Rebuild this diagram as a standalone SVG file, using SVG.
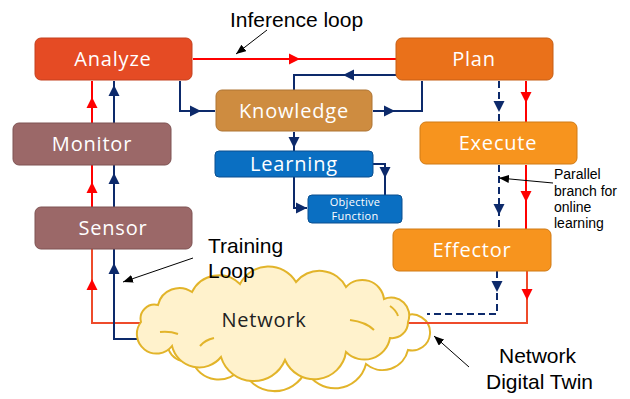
<svg xmlns="http://www.w3.org/2000/svg" width="630" height="399" viewBox="0 0 630 399">
<style>
.box{stroke-width:1}
.nt{font-family:"Open Sans","Liberation Sans",sans-serif;font-size:20px;fill:#fff;text-anchor:middle;letter-spacing:0.8px}
.nts{font-family:"Open Sans","Liberation Sans",sans-serif;font-size:11px;fill:#fff;text-anchor:middle;letter-spacing:0.3px}
.lbl{font-family:"Liberation Sans",Arial,sans-serif;font-size:21px;fill:#000}
.lbls{font-family:"Liberation Sans",Arial,sans-serif;font-size:14px;fill:#000}
.red{stroke:#FF0000;stroke-width:2;fill:none}
.ored{stroke:#EE4B2B;stroke-width:2;fill:none}
.navy{stroke:#0D2A6B;stroke-width:2;fill:none}
.dash{stroke-dasharray:7 4}
.ahr{fill:#FF0000}
.ahn{fill:#0D2A6B}
.ann{stroke:#000;stroke-width:1;fill:none;marker-end:url(#blk)}
.cloud{fill:#FFF2CC;stroke:#E2B42A;stroke-width:2}
.cloudb{fill:#FFFFFF;stroke:#E2B42A;stroke-width:2}
.cin{fill:none;stroke:#E2B42A;stroke-width:2}
</style>
<defs>
<path id="ah" d="M0,0 L-11,-5.5 L-11,5.5 Z"/>
<marker id="blk" viewBox="0 0 10 8" refX="10" refY="4" markerWidth="10" markerHeight="8" markerUnits="userSpaceOnUse" orient="auto">
<path d="M0,0 L10,4 L0,8 Z" fill="#000"/>
</marker>
</defs>
<rect width="630" height="399" fill="#fff"/>

<g id="network-back">
<path class="cloudb" d="M170,334 A16,16 0 0 1 181,319 A22,22 0 0 1 214,308 A30,30 0 0 1 262,301 A32,32 0 0 1 316,300 A30,30 0 0 1 366,306 A22,22 0 0 1 403,317 A18,18 0 0 1 430,334 A18,18 0 0 1 408,350 A26,26 0 0 1 366,364 A32,32 0 0 1 306,370 A34,34 0 0 1 242,367 A28,28 0 0 1 192,360 A18,18 0 0 1 170,334 Z"/>
</g>

<g id="connectors">
<path class="red" d="M193,59 H396"/>
<use href="#ah" class="ahr" transform="translate(300,59)"/>
<path class="navy" d="M180,81 V111 H215"/>
<use href="#ah" class="ahn" transform="translate(201,111)"/>
<path class="navy" d="M396,75 H294 V90"/>
<use href="#ah" class="ahn" transform="translate(343,75) rotate(180)"/>
<path class="navy" d="M373,111 H422 V81"/>
<use href="#ah" class="ahn" transform="translate(395,111)"/>
<path class="navy" d="M294,132 V151"/>
<use href="#ah" class="ahn" transform="translate(294,148) rotate(90)"/>
<path class="navy" d="M373,164 H385 V195"/>
<use href="#ah" class="ahn" transform="translate(385,178) rotate(90)"/>
<path class="navy" d="M294,177 V208 H307"/>
<use href="#ah" class="ahn" transform="translate(307,208)"/>
<path class="navy dash" d="M499,81 V122"/>
<use href="#ah" class="ahn" transform="translate(499,112) rotate(90)"/>
<path class="red" d="M526,81 V122"/>
<use href="#ah" class="ahr" transform="translate(526,103) rotate(90)"/>
<path class="navy dash" d="M499,165 V229"/>
<use href="#ah" class="ahn" transform="translate(499,215) rotate(90)"/>
<path class="red" d="M526,165 V229"/>
<use href="#ah" class="ahr" transform="translate(526,202) rotate(90)"/>
<path class="navy dash" d="M497,271 V314 H427"/>
<use href="#ah" class="ahn" transform="translate(497,292) rotate(90)"/>
<path class="ored" d="M527,271 V323 H400"/>
<use href="#ah" class="ahr" transform="translate(527,300) rotate(90)"/>
<path class="ored" d="M165,323 H92 V249"/>
<use href="#ah" class="ahr" transform="translate(92,279) rotate(-90)"/>
<path class="red" d="M92,207 V165"/>
<use href="#ah" class="ahr" transform="translate(92,182) rotate(-90)"/>
<path class="red" d="M92,123 V81"/>
<use href="#ah" class="ahr" transform="translate(92,97) rotate(-90)"/>
<path class="navy" d="M165,339 H114 V249"/>
<use href="#ah" class="ahn" transform="translate(114,263) rotate(-90)"/>
<path class="navy" d="M114,207 V165"/>
<use href="#ah" class="ahn" transform="translate(114,173) rotate(-90)"/>
<path class="navy" d="M114,123 V81"/>
<use href="#ah" class="ahn" transform="translate(114,85) rotate(-90)"/>
</g>

<g id="network">
<path class="cloud" d="M141,322 A14,14 0 0 1 158,305 A22,22 0 0 1 192,292 A30,30 0 0 1 240,284 A32,32 0 0 1 296,282 A30,30 0 0 1 346,287 A22,22 0 0 1 384,299 A18,18 0 0 1 408,322 A16,16 0 0 1 390,338 A26,26 0 0 1 346,352 A32,32 0 0 1 285,360 A34,34 0 0 1 221,357 A28,28 0 0 1 172,346 A16,16 0 0 1 141,322 Z"/>
<path class="cin" d="M160,332 Q170,331 178,334"/>
<path class="cin" d="M350,320 Q366,322 374,330"/>
<path class="cin" d="M390,306 Q396,310 398,316"/>
<path class="cin" d="M200,346 Q205,340 214,338"/>
<text x="264" y="327" class="nt" style="fill:#222">Network</text>
</g>

<g id="analyze">
<rect class="box" x="35" y="38" width="157" height="42" rx="6" fill="#E54B24" stroke="#C4401E"/>
<text x="113" y="66" class="nt">Analyze</text>
</g>
<g id="monitor">
<rect class="box" x="13" y="123" width="158" height="42" rx="6" fill="#9B6868" stroke="#7E5252"/>
<text x="92" y="151" class="nt">Monitor</text>
</g>
<g id="sensor">
<rect class="box" x="35" y="207" width="157" height="42" rx="6" fill="#9B6868" stroke="#7E5252"/>
<text x="113" y="235" class="nt">Sensor</text>
</g>
<g id="plan">
<rect class="box" x="396" y="38" width="157" height="42" rx="6" fill="#EA711A" stroke="#C65E14"/>
<text x="474" y="66" class="nt">Plan</text>
</g>
<g id="knowledge">
<rect class="box" x="216" y="90" width="156" height="41" rx="6" fill="#CE8C40" stroke="#AE7433"/>
<text x="294" y="118" class="nt">Knowledge</text>
</g>
<g id="learning">
<rect class="box" x="215" y="151" width="158" height="26" rx="4" fill="#0A6FC2" stroke="#0A4F8F"/>
<text x="294" y="171" class="nt">Learning</text>
</g>
<g id="objective">
<rect class="box" x="308" y="195" width="94" height="28" rx="4" fill="#0A6FC2" stroke="#0A4F8F"/>
<text x="355" y="206" class="nts">Objective</text>
<text x="355" y="220" class="nts">Function</text>
</g>
<g id="execute">
<rect class="box" x="420" y="122" width="157" height="42" rx="6" fill="#F7941E" stroke="#D07A14"/>
<text x="498" y="150" class="nt">Execute</text>
</g>
<g id="effector">
<rect class="box" x="393" y="229" width="158" height="42" rx="6" fill="#F7941E" stroke="#D07A14"/>
<text x="472" y="257" class="nt">Effector</text>
</g>

<g id="annotations">
<text x="230" y="27" class="lbl">Inference loop</text>
<path class="ann" d="M267,30 L236,54"/>
<text x="208" y="253" class="lbl">Training</text>
<text x="208" y="278" class="lbl">Loop</text>
<path class="ann" d="M193,258 L123,282"/>
<text x="554" y="179" class="lbls">Parallel</text>
<text x="554" y="196" class="lbls">branch for</text>
<text x="554" y="212" class="lbls">online</text>
<text x="554" y="228" class="lbls">learning</text>
<path class="ann" d="M553,183 L499,178"/>
<text x="499" y="363" class="lbl">Network</text>
<text x="486" y="389" class="lbl">Digital Twin</text>
<path class="ann" d="M469,367 L434,336"/>
</g>
</svg>
